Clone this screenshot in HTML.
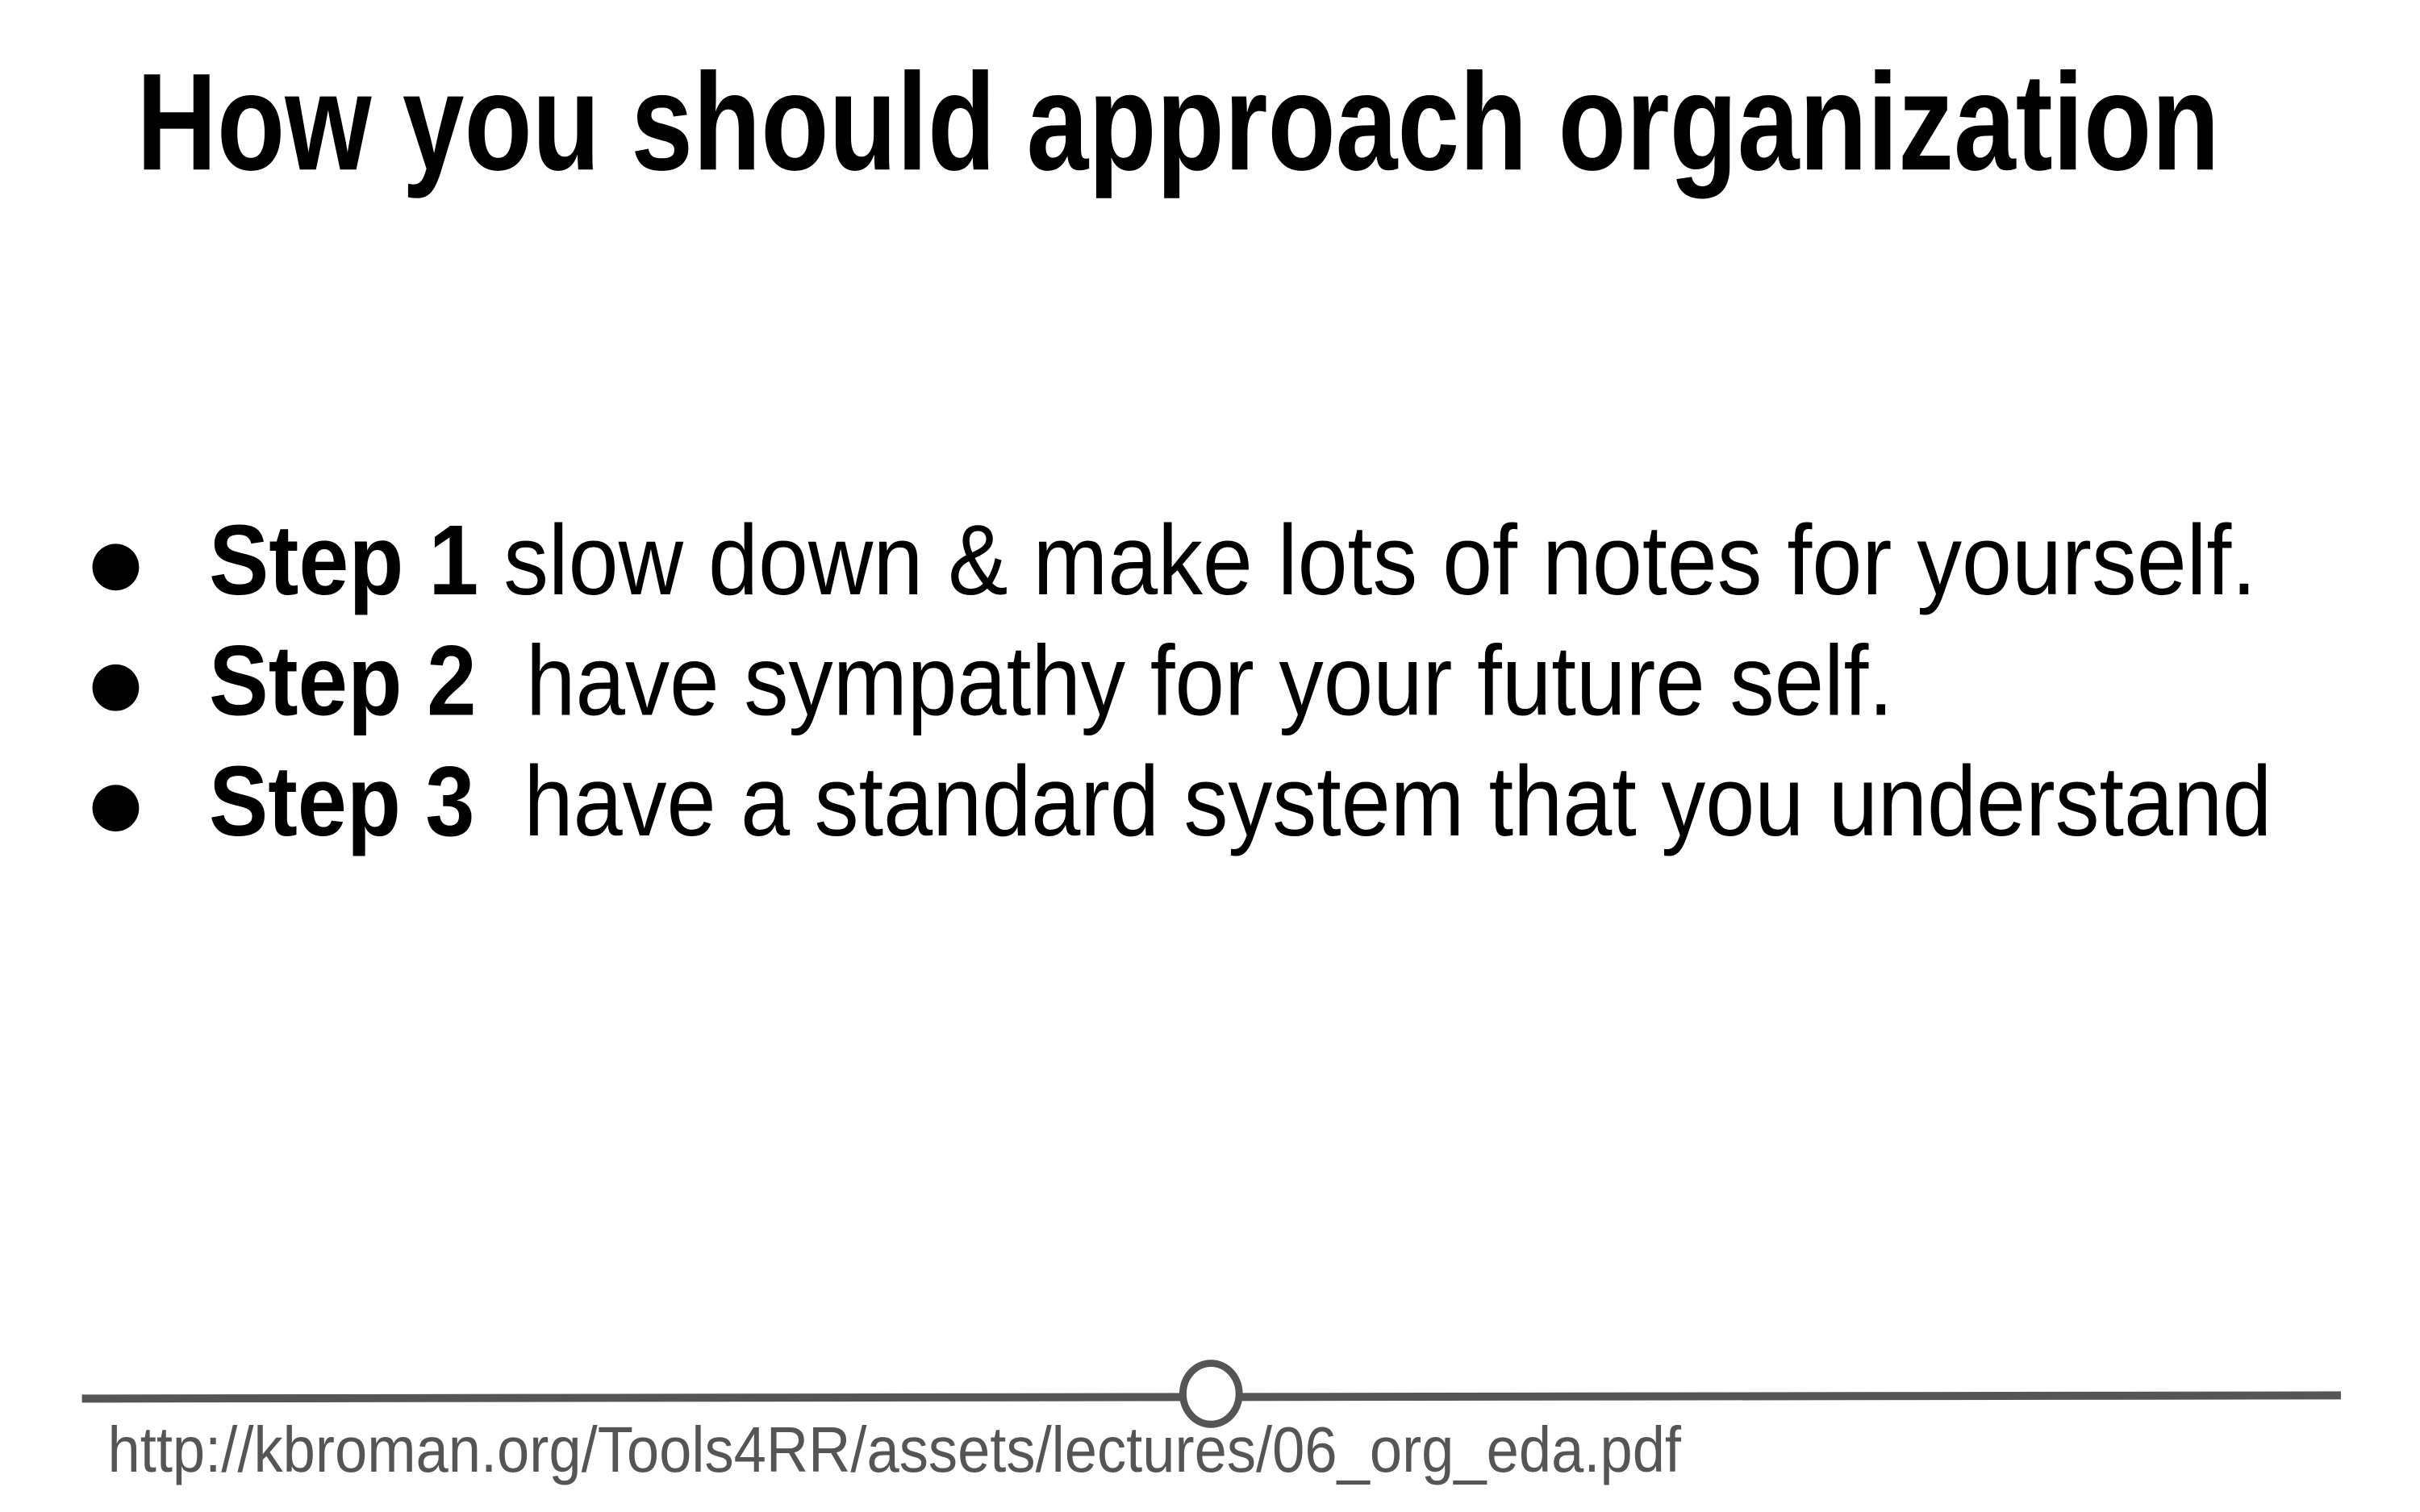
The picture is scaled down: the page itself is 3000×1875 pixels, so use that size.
<!DOCTYPE html>
<html><head><meta charset="utf-8"><style>
html,body{margin:0;padding:0;background:#fff;}
svg{display:block;}
text{font-family:"Liberation Sans Narrow","Liberation Sans",sans-serif;white-space:pre;}
</style></head><body>
<svg width="3000" height="1875" viewBox="0 0 3000 1875">
<rect width="3000" height="1875" fill="#fff"/>
<g transform="scale(0.9962)">
<text x="170" y="211" font-size="172" font-weight="bold" fill="#000" textLength="2592" lengthAdjust="spacingAndGlyphs">How you should approach organization</text>
<g font-size="124" fill="#000">
<circle cx="144" cy="706" r="29"/>
<text x="260" y="740" textLength="2548" lengthAdjust="spacingAndGlyphs"><tspan font-weight="bold">Step 1</tspan> slow down &amp; make lots of notes for yourself.</text>
<circle cx="144" cy="856" r="29"/>
<text x="260" y="890" textLength="2096" lengthAdjust="spacingAndGlyphs"><tspan font-weight="bold">Step 2</tspan>  have sympathy for your future self.</text>
<circle cx="144" cy="1006" r="29"/>
<text x="260" y="1040" textLength="2567" lengthAdjust="spacingAndGlyphs"><tspan font-weight="bold">Step 3</tspan>  have a standard system that you understand</text>
</g>
<line x1="102" y1="1741" x2="2913" y2="1737" stroke="#555" stroke-width="10"/>
<ellipse cx="1507" cy="1735" rx="35" ry="38" fill="#fff" stroke="#555" stroke-width="9"/>
<text x="134" y="1832" font-size="80" fill="#555" textLength="1958" lengthAdjust="spacingAndGlyphs">http://kbroman.org/Tools4RR/assets/lectures/06_org_eda.pdf</text>
</g>
</svg>
</body></html>
